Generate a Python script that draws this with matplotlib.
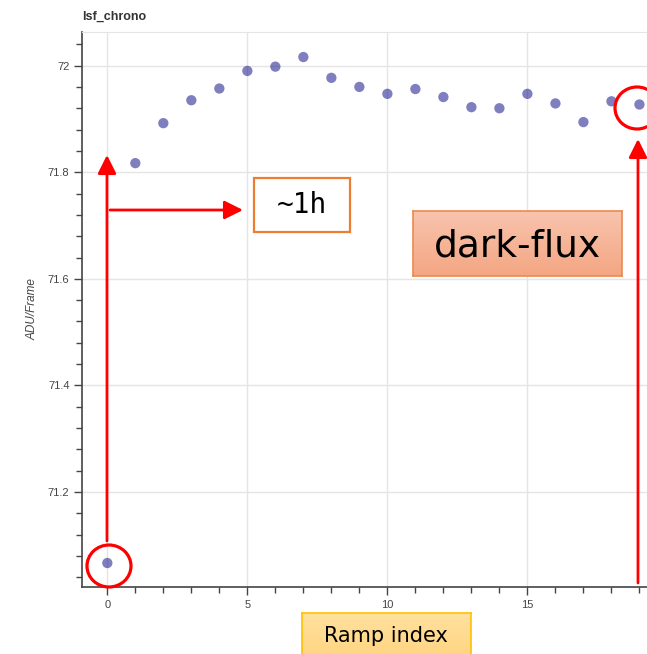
import numpy as np
import matplotlib
matplotlib.use("Agg")
import matplotlib.pyplot as plt
from matplotlib.patches import FancyArrowPatch, Ellipse, Rectangle
from matplotlib.ticker import MultipleLocator

W, H = 647, 654

# data
ramp_index = list(range(20))
adu_per_frame = [71.067, 71.817, 71.892, 71.935, 71.957, 71.990, 71.998, 72.016,
                 71.977, 71.960, 71.947, 71.956, 71.941, 71.922, 71.920, 71.947,
                 71.929, 71.894, 71.933, 71.927]
x_ticks = [0, 5, 10, 15]
y_ticks = [71.2, 71.4, 71.6, 71.8, 72.0]
y_tick_labels = ["71.2", "71.4", "71.6", "71.8", "72"]


def fx(px):
    return px / W


def fy(py):
    return 1 - py / H


fig = plt.figure(figsize=(W / 100, H / 100), dpi=100)
ax = fig.add_axes([fx(82), fy(587), fx(647) - fx(82), fy(32) - fy(587)])

ax.scatter(ramp_index, adu_per_frame, s=55, color="navy", alpha=0.5,
           edgecolors="none", zorder=3)

ax.set_xlim(-0.904, 19.27)
ax.set_ylim(71.022, 72.063)
ax.set_xticks(x_ticks)
ax.set_yticks(y_ticks)
ax.set_yticklabels(y_tick_labels)
ax.xaxis.set_minor_locator(MultipleLocator(1))
ax.yaxis.set_minor_locator(MultipleLocator(0.04))

ax.grid(True, color="#e5e5e5", linewidth=1)
ax.set_axisbelow(True)
for side in ["left", "bottom"]:
    ax.spines[side].set_color("#444444")
    ax.spines[side].set_linewidth(1.2)
ax.spines["top"].set_color("#e5e5e5")
ax.spines["right"].set_visible(False)

ax.tick_params(which="major", direction="out", length=6, width=1,
               color="#444444", labelcolor="#444444", labelsize=8, pad=3)
ax.tick_params(which="minor", direction="out", length=4, width=1, color="#444444")
for lab in ax.get_xticklabels() + ax.get_yticklabels():
    lab.set_family("Liberation Sans")

ax.set_ylabel("ADU/Frame", fontsize=8.5, style="italic", color="#444444",
              family="Liberation Sans")
ax.yaxis.set_label_coords(-0.077, 0.5)

fig.text(fx(82), fy(17), "lsf_chrono", fontsize=9, fontweight="bold",
         color="#333333", family="Liberation Sans", va="center", ha="left")

red = "#ff0000"

# circles around first and last ramp
for cx, cy in [(109, 566), (637, 108)]:
    fig.patches.append(Ellipse((fx(cx), fy(cy)), 44 / W, 42 / H,
                               transform=fig.transFigure, fill=False,
                               edgecolor=red, linewidth=2.3, zorder=5))

# arrows
arrows = [((107, 541), (107, 155)),
          ((110, 210), (243, 210)),
          ((638, 583), (638, 139))]
for (x0, y0), (x1, y1) in arrows:
    fig.patches.append(FancyArrowPatch((fx(x0), fy(y0)), (fx(x1), fy(y1)),
                                       transform=fig.transFigure,
                                       arrowstyle="-|>,head_length=0.8,head_width=0.4",
                                       mutation_scale=14, color=red,
                                       linewidth=2, shrinkA=0, shrinkB=0, zorder=5))

# "~1h" box
fig.patches.append(Rectangle((fx(254), fy(232)), fx(350) - fx(254), fy(178) - fy(232),
                             transform=fig.transFigure, facecolor="white",
                             edgecolor="#ed7d31", linewidth=1.6, zorder=5))
fig.text(fx(302), fy(205), "~1h", fontsize=20, family="DejaVu Sans Mono",
         ha="center", va="center", zorder=6)


def gradient_box(x0, y0, x1, y1, top, bottom, edge):
    bax = fig.add_axes([fx(x0), fy(y1), fx(x1) - fx(x0), fy(y0) - fy(y1)])
    c_top = np.array(matplotlib.colors.to_rgb(top))
    c_bot = np.array(matplotlib.colors.to_rgb(bottom))
    t = np.linspace(0, 1, 64)[:, None, None]
    grad = c_top * (1 - t) + c_bot * t
    bax.imshow(grad, aspect="auto", extent=[0, 1, 0, 1], origin="upper")
    bax.set_xticks([])
    bax.set_yticks([])
    for sp in bax.spines.values():
        sp.set_color(edge)
        sp.set_linewidth(1.2)
    return bax


dax = gradient_box(413, 211, 622, 276, "#f8c4ad", "#f4a683", "#ed8a4f")
dax.text(0.5, 0.45, "dark-flux", fontsize=27, ha="center", va="center",
         transform=dax.transAxes)

rax = gradient_box(302, 613, 471, 660, "#ffe19f", "#ffd47f", "#ffc000")
fig.text(fx(386), fy(636), "Ramp index", fontsize=15, ha="center", va="center")

fig.savefig("out.png", dpi=100)
